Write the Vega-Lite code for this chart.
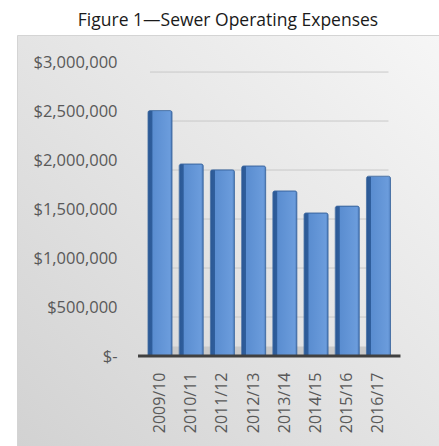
{
  "$schema": "https://vega.github.io/schema/vega-lite/v6.json",
  "width": 422,
  "height": 411,
  "autosize": "none",
  "padding": {"left": 17, "top": 35, "right": 0, "bottom": 0},
  "background": "white",
  "title": {
    "text": "Figure 1—Sewer Operating Expenses",
    "font": "Open Sans",
    "fontSize": 17.5,
    "fontWeight": "normal",
    "color": "#1a1a1a",
    "anchor": "middle",
    "offset": 6
  },
  "config": {
    "view": {
      "fill": {
        "gradient": "linear",
        "x1": 0, "y1": 1, "x2": 1, "y2": 0,
        "stops": [
          {"offset": 0, "color": "#d2d2d2"},
          {"offset": 1, "color": "#f6f6f6"}
        ]
      },
      "stroke": "#d4d4d4",
      "strokeWidth": 1
    }
  },
  "data": {
    "values": [
      {"year": "2009/10", "expense": 2505000},
      {"year": "2010/11", "expense": 1960000},
      {"year": "2011/12", "expense": 1900000},
      {"year": "2012/13", "expense": 1940000},
      {"year": "2013/14", "expense": 1685000},
      {"year": "2014/15", "expense": 1460000},
      {"year": "2015/16", "expense": 1530000},
      {"year": "2016/17", "expense": 1835000}
    ]
  },
  "layer": [
    {
      "data": {"values": [{"g": 0}]},
      "mark": {"type": "rule", "color": "#c9c9c9", "strokeWidth": 9, "yOffset": -5, "xOffset": -12, "x2Offset": 12},
      "encoding": {
        "y": {"field": "g", "type": "quantitative"},
        "x": {
          "datum": "2009/10",
          "type": "nominal",
          "scale": {
            "domain": ["2009/10", "2010/11", "2011/12", "2012/13", "2013/14", "2014/15", "2015/16", "2016/17"],
            "range": [131, 373.5],
            "paddingInner": 0.23, "paddingOuter": 0
          }
        },
        "x2": {"datum": "2016/17"}
      }
    },
    {
      "data": {"values": [{"g": 500000}, {"g": 1000000}, {"g": 1500000}, {"g": 2000000}, {"g": 2500000}, {"g": 3000000}]},
      "mark": {"type": "rule", "color": "#c8c8c8", "strokeWidth": 1, "yOffset": 10, "xOffset": -10, "x2Offset": 10},
      "encoding": {
        "y": {"field": "g", "type": "quantitative"},
        "x": {"datum": "2009/10", "type": "nominal"},
        "x2": {"datum": "2016/17"}
      }
    },
    {
      "mark": {
        "type": "bar",
        "cornerRadiusTopLeft": 2,
        "cornerRadiusTopRight": 2,
        "stroke": "#3b679f",
        "strokeWidth": 0.8,
        "fill": {
          "gradient": "linear",
          "x1": 0, "y1": 0, "x2": 1, "y2": 0,
          "stops": [
            {"offset": 0, "color": "#2b5894"},
            {"offset": 0.17, "color": "#2f5e9c"},
            {"offset": 0.2, "color": "#5a8dd0"},
            {"offset": 0.9, "color": "#6b9cdc"},
            {"offset": 1, "color": "#4f7fbf"}
          ]
        }
      },
      "encoding": {
        "x": {
          "field": "year",
          "type": "nominal",
          "sort": null,
          "title": null,
          "scale": {
            "domain": ["2009/10", "2010/11", "2011/12", "2012/13", "2013/14", "2014/15", "2015/16", "2016/17"],
            "range": [131, 373.5],
            "paddingInner": 0.23, "paddingOuter": 0
          },
          "axis": {
            "orient": "bottom",
            "offset": -74,
            "labelAngle": -90,
            "labelAlign": "right",
            "labelBaseline": "middle",
            "labelPadding": 0,
            "ticks": false,
            "domain": false,
            "labelFont": "Open Sans",
            "labelFontSize": 16,
            "labelColor": "#595959"
          }
        },
        "y": {
          "field": "expense",
          "type": "quantitative",
          "title": null,
          "scale": {"domain": [-918000, 3276000], "nice": false, "zero": false},
          "axis": {
            "orient": "left",
            "offset": -100,
            "values": [0, 500000, 1000000, 1500000, 2000000, 2500000, 3000000],
            "labelExpr": "datum.value == 0 ? '$-\u00a0\u00a0' : '$' + format(datum.value, ',')",
            "labelPadding": 0,
            "ticks": false,
            "domain": false,
            "grid": false,
            "labelFont": "Open Sans",
            "labelFontSize": 16.5,
            "labelColor": "#595959"
          }
        }
      }
    },
    {
      "data": {"values": [{"g": 0}]},
      "mark": {"type": "rule", "color": "#404040", "strokeWidth": 3, "xOffset": -22, "x2Offset": 22},
      "encoding": {
        "y": {"field": "g", "type": "quantitative"},
        "x": {"datum": "2009/10", "type": "nominal"},
        "x2": {"datum": "2016/17"}
      }
    }
  ]
}
